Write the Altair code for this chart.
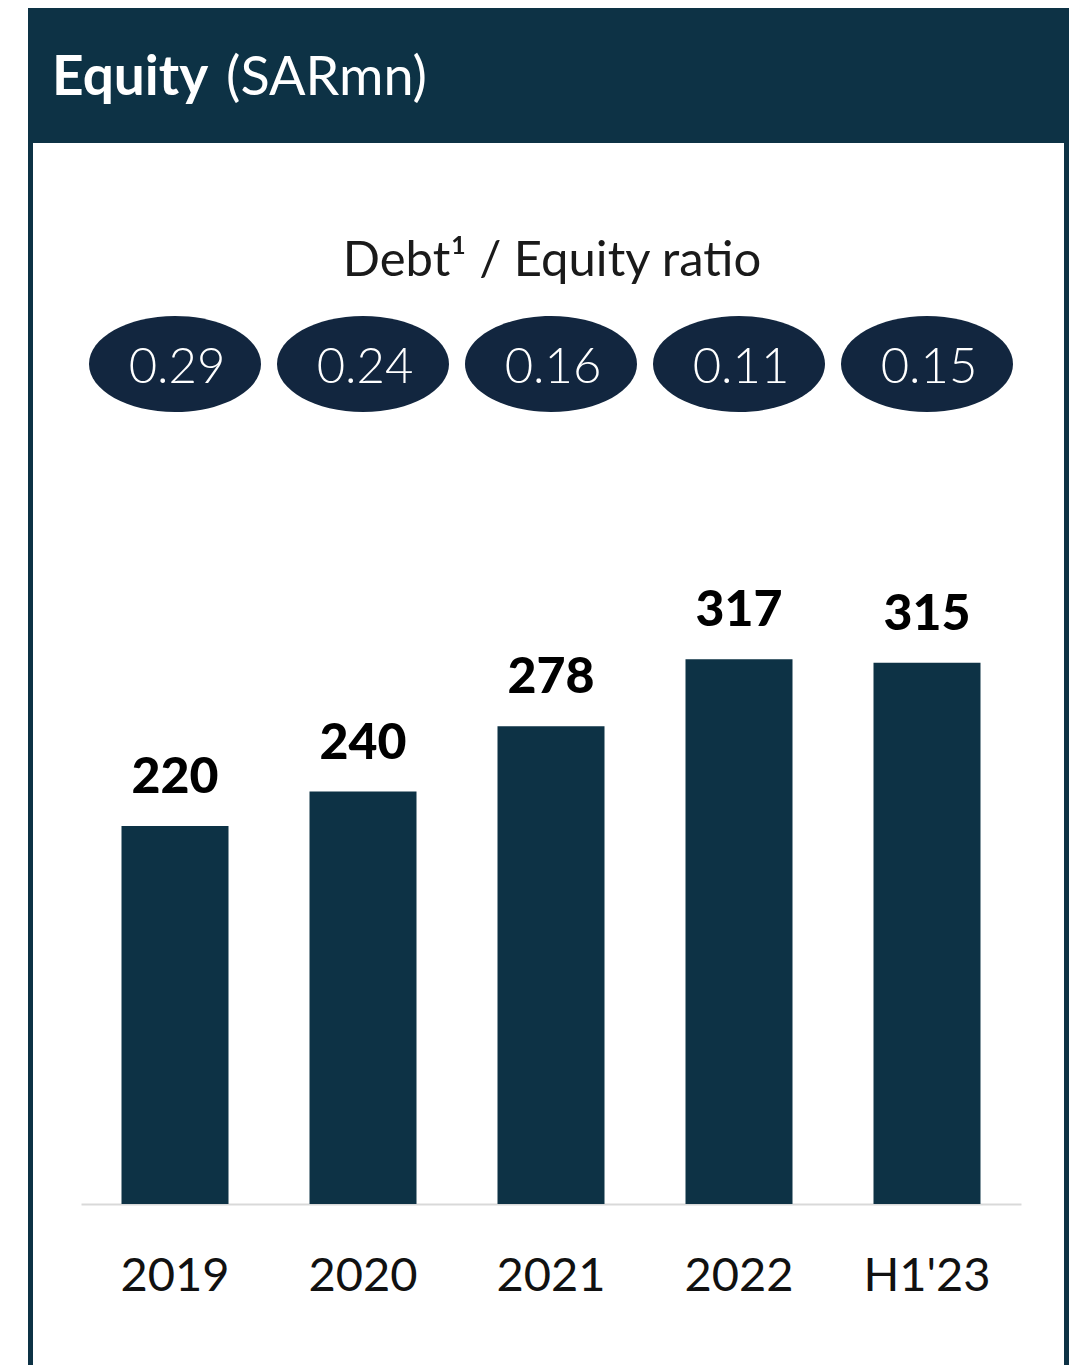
import altair as alt
import pandas as pd

categories = ["2019", "2020", "2021", "2022", "H1'23"]
equity = [220, 240, 278, 317, 315]
ratios = ["0.29", "0.24", "0.16", "0.11", "0.15"]

title_bold = "Equity"
title_unit = "(SARmn)"
subtitle = "Debt¹ / Equity ratio"

NAVY = "#0d3245"
OVAL = "#12263f"
FONT = "Lato"

df = pd.DataFrame({"cat": categories, "equity": equity, "ratio": ratios})
one = pd.DataFrame({"a": [0]})

xenc = alt.X(
    "cat:N",
    sort=categories,
    scale=alt.Scale(paddingInner=0.43, paddingOuter=0.215),
    axis=alt.Axis(
        title=None, ticks=False, domainColor="#d9d9d9", domainWidth=2,
        labelFontSize=47, labelColor="#111111", labelFont=FONT,
        labelBaseline="alphabetic", labelPadding=86, labelAngle=0,
    ),
)
yenc = alt.Y("equity:Q", scale=alt.Scale(domain=[0, 696], nice=False), axis=None)

base = alt.Chart(df).encode(x=xenc)

bars = base.mark_bar(color=NAVY, size=107).encode(y=yenc)
bar_labels = base.mark_text(
    font=FONT, fontWeight=900, fontSize=50, dy=-33, baseline="alphabetic",
    color="#000000",
).encode(y=yenc, text="equity:Q")

ellipse_path = "M-1,0A1,0.558 0 1,1 1,0A1,0.558 0 1,1 -1,0Z"
ovals = base.mark_point(
    shape=ellipse_path, size=172 * 172, filled=True, color=OVAL, opacity=1,
).encode(y=alt.value(356))
oval_text = base.mark_text(
    font=FONT, fontWeight=300, fontSize=49, color="white", baseline="middle",
    dy=4, dx=2,
).encode(y=alt.value(356), text="ratio:N")

header = alt.Chart(one).mark_rect(color=NAVY).encode(
    x=alt.value(-53), x2=alt.value(988), y=alt.value(0), y2=alt.value(135)
)
left_border = alt.Chart(one).mark_rect(color=NAVY).encode(
    x=alt.value(-53), x2=alt.value(-48), y=alt.value(0), y2=alt.value(1357)
)
right_border = alt.Chart(one).mark_rect(color=NAVY).encode(
    x=alt.value(983), x2=alt.value(988), y=alt.value(0), y2=alt.value(1357)
)
t1 = alt.Chart(one).mark_text(
    font=FONT, fontWeight="bold", fontSize=55, color="white", align="left",
    baseline="alphabetic",
).encode(x=alt.value(-29), y=alt.value(87), text=alt.value(title_bold))
t2 = alt.Chart(one).mark_text(
    font=FONT, fontSize=54, color="white", align="left", baseline="alphabetic",
).encode(x=alt.value(145), y=alt.value(87), text=alt.value(title_unit))
sub = alt.Chart(one).mark_text(
    font=FONT, fontSize=49, color="#1a1a1a", align="center", baseline="alphabetic",
).encode(x=alt.value(471), y=alt.value(268), text=alt.value(subtitle))

chart = alt.layer(
    header, left_border, right_border, t1, t2, sub,
    bars, bar_labels, ovals, oval_text,
).properties(
    width=940, height=1196,
    autosize=alt.AutoSizeParams(type="none"),
    padding={"left": 73, "top": 0, "right": 51, "bottom": 161},
    background="white",
).configure_view(stroke=None)

chart.save("out.html", embed_options={"renderer": "svg", "actions": False})
